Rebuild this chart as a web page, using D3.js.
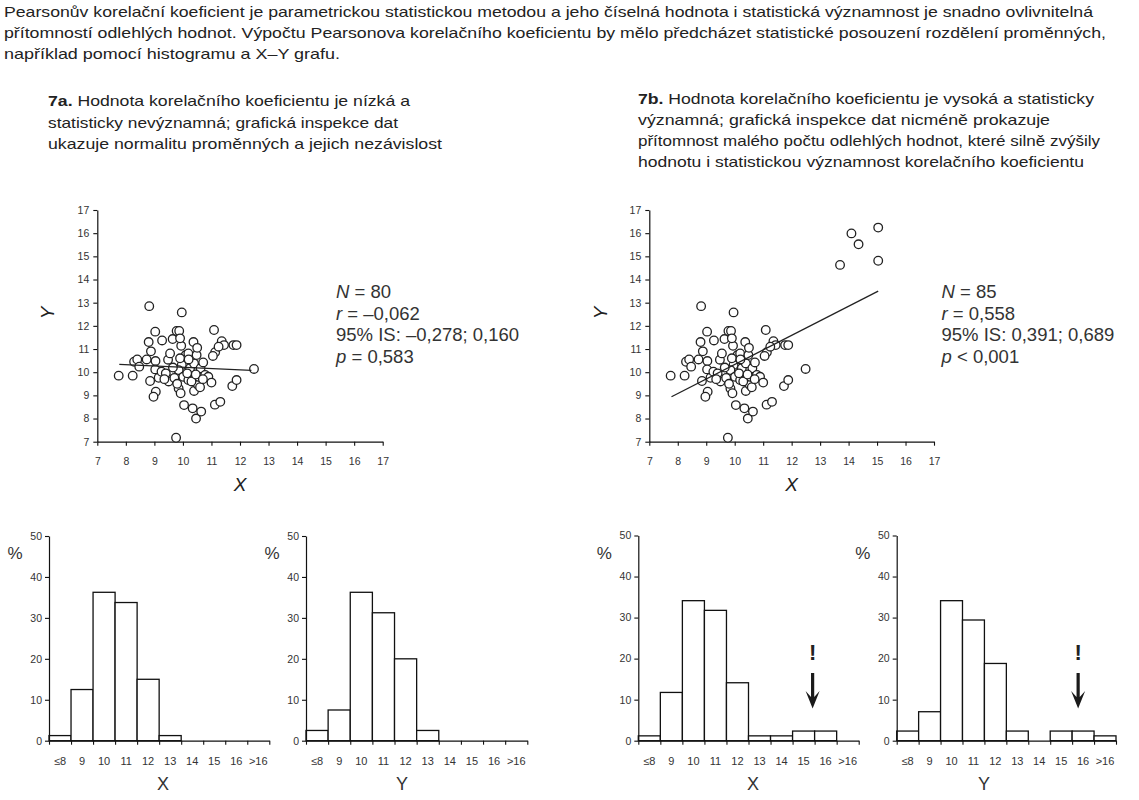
<!DOCTYPE html>
<html><head><meta charset="utf-8">
<script src="https://cdn.jsdelivr.net/npm/d3@7"></script>
<style>
body{margin:0;background:#fff}
svg{display:block}
text{font-family:"Liberation Sans",Arial,sans-serif;fill:#222}
</style>
</head><body><svg id="c" width="1139" height="800"></svg>
<script>
// ---------- data ----------
const baseX = [7.75,8.24,8.29,8.4,8.47,8.73,8.8,8.82,8.88,8.85,9.04,9.03,9.05,8.97,9.03,9.27,9.15,9.25,9.48,9.55,
  9.6,9.57,9.64,9.78,9.87,9.94,9.9,9.76,9.96,9.85,9.92,9.96,9.85,10.04,10.01,10.1,10.19,10.19,10.25,10.37,
  10.39,10.34,10.39,10.46,10.48,10.53,10.55,10.62,10.64,10.71,10.78,10.89,11.0,11.09,11.13,11.12,11.31,11.36,11.44,11.73,
  11.77,11.88,11.88,12.49,9.4,9.5,9.7,9.8,9.65,9.35,9.9,10.15,10.3,10.45,10.6,10.2,10.5,10.7,11.25,11.05];
const baseY = [9.85,9.85,10.45,10.55,10.24,10.55,11.3,12.85,10.9,9.62,10.48,10.12,9.16,8.94,11.75,11.37,9.76,10.02,10.54,10.81,
  9.88,9.69,11.43,11.78,11.78,11.14,11.46,7.17,12.58,9.3,9.09,10.31,10.09,8.58,9.8,10.74,10.81,9.66,10.17,11.3,
  9.19,8.44,10.38,8.0,10.74,9.45,9.8,10.17,8.3,10.42,9.88,9.8,9.55,11.82,10.86,8.6,8.72,11.34,11.17,9.4,
  11.17,11.17,9.66,10.14,9.95,9.6,9.75,9.5,10.2,9.7,10.6,9.95,9.6,9.9,9.35,10.55,11.05,9.7,11.1,10.7];
const outlierX = [13.7,14.1,14.35,15.04,15.04];
const outlierY = [14.63,15.99,15.52,16.24,14.81];
const fitAX = [7.77,12.4], fitAY = [10.34,10.08];
const fitBX = [7.78,15.04], fitBY = [8.94,13.5];
const scatterTicks = [7,8,9,10,11,12,13,14,15,16,17];

const binLabels = ["≤8","9","10","11","12","13","14","15","16",">16"];
const histAX = [1.25,12.5,36.25,33.75,15,1.25,0,0,0,0];
const histAY = [2.5,7.5,36.25,31.25,20,2.5,0,0,0,0];
const histBX = [1.18,11.76,34.12,31.76,14.12,1.18,1.18,2.35,2.35,0];
const histBY = [2.35,7.06,34.12,29.41,18.82,2.35,0,2.35,2.35,1.18];
const histTicks = [0,10,20,30,40,50];

const introLines = [
 "Pearsonův korelační koeficient je parametrickou statistickou metodou a jeho číselná hodnota i statistická významnost je snadno ovlivnitelná",
 "přítomností odlehlých hodnot. Výpočtu Pearsonova korelačního koeficientu by mělo předcházet statistické posouzení rozdělení proměnných,",
 "například pomocí histogramu a X–Y grafu."];
const subA = ["Hodnota korelačního koeficientu je nízká a","statisticky nevýznamná; grafická inspekce dat","ukazuje normalitu proměnných a jejich nezávislost"];
const subB = ["Hodnota korelačního koeficientu je vysoká a statisticky","významná; grafická inspekce dat nicméně prokazuje","přítomnost malého počtu odlehlých hodnot, které silně zvýšily","hodnotu i statistickou významnost korelačního koeficientu"];
const statsA = [["N"," = 80"],["r"," = –0,062"],["","95% IS: –0,278; 0,160"],["p"," = 0,583"]];
const statsB = [["N"," = 85"],["r"," = 0,558"],["","95% IS: 0,391; 0,689"],["p"," < 0,001"]];

// ---------- drawing ----------
const svg = d3.select("#c");
svg.append("rect").attr("width",1139).attr("height",800).attr("fill","#fff");

function textBlock(lines, x, y0, dy, ends, label){
  lines.forEach((s,i)=>{
    const t = svg.append("text").attr("x",x).attr("y",y0+i*dy).attr("font-size",15)
      .attr("textLength", ends[i]-x).attr("lengthAdjust","spacingAndGlyphs");
    if(i===0 && label){ t.append("tspan").attr("font-weight","bold").text(label); t.append("tspan").text(" "+s); }
    else t.text(s);
  });
}
textBlock(introLines, 4, 17, 21, [1093,1106,340]);
textBlock(subA, 48, 106, 21.5, [410,398,442], "7a.");
textBlock(subB, 638, 104, 21, [1094,1050,1100,1084], "7b.");

function styleAxis(a, fs){
  a.select(".domain").attr("stroke","#111").attr("stroke-width",1.2);
  a.selectAll(".tick line").attr("stroke","#111").attr("stroke-width",1.1);
  a.selectAll("text").attr("font-size",fs).style("fill","#333");
}

function scatter(cfg){
  const x = d3.scaleLinear().domain([7,17]).range([cfg.x0,cfg.x1]);
  const y = d3.scaleLinear().domain([7,17]).range([441.7,210]);
  const g = svg.append("g");
  const ax = g.append("g").attr("transform","translate(0,441.7)")
    .call(d3.axisBottom(x).tickValues(scatterTicks).tickSize(4).tickSizeOuter(0).tickPadding(12));
  styleAxis(ax,10.5);
  const ay = g.append("g").attr("transform",`translate(${cfg.x0},0)`)
    .call(d3.axisLeft(y).tickValues(scatterTicks).tickSize(4).tickSizeOuter(0).tickPadding(4));
  styleAxis(ay,10.5);
  const idx = d3.range(cfg.xs.length);
  g.selectAll("circle.pt").data(idx).join("circle").attr("class","pt")
    .attr("cx",i=>x(cfg.xs[i])).attr("cy",i=>y(cfg.ys[i])).attr("r",4.3)
    .attr("fill","#fff").attr("stroke","#222").attr("stroke-width",1.3);
  g.append("line").attr("x1",x(cfg.fx[0])).attr("y1",y(cfg.fy[0]))
    .attr("x2",x(cfg.fx[1])).attr("y2",y(cfg.fy[1])).attr("stroke","#222").attr("stroke-width",1.3);
  g.append("text").attr("x",x(12)).attr("y",491)
    .attr("text-anchor","middle").attr("font-size",19).attr("font-style","italic").text("X");
  g.append("text").attr("transform",`translate(${cfg.ylx},313) rotate(-90)`)
    .attr("text-anchor","middle").attr("dy","0.35em").attr("font-size",19).attr("font-style","italic").text("Y");
  cfg.stats.forEach((s,i)=>{
    const t = g.append("text").attr("x",cfg.sx).attr("y",298+i*21.7).attr("font-size",18.5).style("fill","#333");
    if(s[0]) t.append("tspan").attr("font-style","italic").text(s[0]);
    t.append("tspan").text(s[1]);
  });
}
scatter({x0:97.3,x1:382.7,xs:baseX,ys:baseY,fx:fitAX,fy:fitAY,ylx:47,sx:336,stats:statsA});
scatter({x0:649.3,x1:934,xs:baseX.concat(outlierX),ys:baseY.concat(outlierY),fx:fitBX,fy:fitBY,ylx:600,sx:941.5,stats:statsB});

function hist(cfg){
  const x = d3.scaleBand().domain(binLabels).range([cfg.x0,cfg.x1]).padding(0);
  const xi = d3.scaleLinear().domain([0,binLabels.length]).range([cfg.x0,cfg.x1]);
  const y = d3.scaleLinear().domain([0,50]).range([740.7,cfg.yt]);
  const g = svg.append("g");
  g.selectAll("rect.bar").data(binLabels.map((l,i)=>({l,v:cfg.vals[i]})).filter(d=>d.v>0))
    .join("rect").attr("class","bar")
    .attr("x",d=>x(d.l)).attr("y",d=>y(d.v)).attr("width",x.bandwidth()).attr("height",d=>y(0)-y(d.v))
    .attr("fill","#fff").attr("stroke","#111").attr("stroke-width",1.3);
  const ax = g.append("g").attr("transform","translate(0,740.7)")
    .call(d3.axisBottom(xi).tickValues(d3.range(binLabels.length+1)).tickSize(4).tickSizeOuter(0).tickFormat(""));
  styleAxis(ax,11);
  g.selectAll("text.bl").data(binLabels).join("text").attr("class","bl")
    .attr("x",d=>x(d)+x.bandwidth()/2).attr("y",764.5).attr("text-anchor","middle")
    .attr("font-size",11).style("fill","#333").text(d=>d);
  const ay = g.append("g").attr("transform",`translate(${cfg.x0},0)`)
    .call(d3.axisLeft(y).tickValues(histTicks).tickSize(4).tickSizeOuter(0).tickPadding(3));
  styleAxis(ay,10.5);
  g.append("text").attr("x",cfg.x0-34).attr("y",559).attr("text-anchor","middle").attr("font-size",17).style("fill","#333").text("%");
  g.append("text").attr("x",cfg.lx).attr("y",790).attr("text-anchor","middle").attr("font-size",18).style("fill","#333").text(cfg.label);
  if(cfg.arrow){
    const ax0 = x("16")+cfg.arrow;
    g.append("text").attr("x",ax0).attr("y",660).attr("text-anchor","middle").attr("font-size",22).attr("font-weight","bold").style("fill","#222").text("!");
    g.append("path").attr("d",`M${ax0-1.6},673 L${ax0+1.6},673 L${ax0+1.6},697 L${ax0+7},691 L${ax0},708.5 L${ax0-7},691 L${ax0-1.6},697 Z`).attr("fill","#1a1a1a");
  }
}
hist({x0:49,x1:269.3,yt:536,vals:histAX,label:"X",lx:163});
hist({x0:306,x1:527.3,yt:536,vals:histAY,label:"Y",lx:402});
hist({x0:638.3,x1:858.7,yt:535.5,vals:histBX,label:"X",lx:753,arrow:-2});
hist({x0:896.7,x1:1116,yt:535.5,vals:histBY,label:"Y",lx:984,arrow:6});
</script></body></html>
